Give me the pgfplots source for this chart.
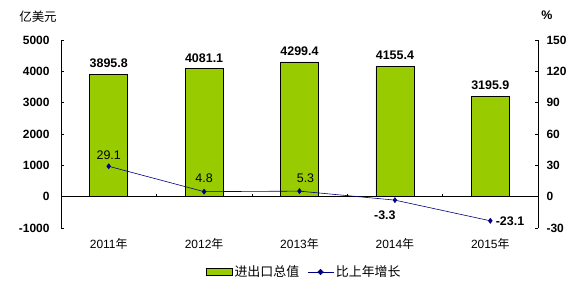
\documentclass[border=0pt]{standalone}
\usepackage{fontspec}
\setmainfont{Liberation Sans}
\newfontfamily\cjk{Noto Sans CJK SC}
\usepackage{pgfplots}
\pgfplotsset{compat=1.18}
\usepackage{pgfplotstable}
\definecolor{bargreen}{HTML}{99CC00}
\definecolor{linenavy}{HTML}{000080}
\pgfplotstableread{
x val lab
0 3895.8 3895.8
1 4081.1 4081.1
2 4299.4 4299.4
3 4155.4 4155.4
4 3195.9 3195.9
}\bars
\pgfplotstableread{
x g
0 29.1
1 4.8
2 5.3
3 -3.3
4 -23.1
}\growth
\newcommand{\fs}[1]{\fontsize{#1}{#1}\selectfont}
\pgfplotsset{
  barlegend/.style={legend image code/.code={\draw[fill=bargreen, draw=black, line width=0.6pt] (0bp,-3.5bp) rectangle (26bp,3.5bp);}},
  linelegend/.style={legend image code/.code={\draw[linenavy, line width=0.6pt] (0bp,0bp) -- (26bp,0bp); \fill[linenavy] (13bp,2.8bp) -- (15.8bp,0bp) -- (13bp,-2.8bp) -- (10.2bp,0bp) -- cycle;}},
}
\begin{document}
\begin{tikzpicture}[x=1bp,y=1bp]
\path[use as bounding box] (0,0) rectangle (583,286);
\begin{axis}[
  at={(61bp,58bp)}, anchor=south west,
  scale only axis, width=477bp, height=188bp,
  xmin=-0.5, xmax=4.5, ymin=-1000, ymax=5000,
  axis y line*=left, axis x line*=bottom,
  x axis line style={draw=none},
  y axis line style={-, line width=0.6pt},
  xtick={0,...,4},
  xticklabels={2011{\cjk 年},2012{\cjk 年},2013{\cjk 年},2014{\cjk 年},2015{\cjk 年}},
  x tick style={draw=none},
  x tick label style={font=\fs{12}, yshift=-7bp},
  ytick={-1000,0,...,5000},
  y tick style={black, line width=0.6pt},
  tick align=inside, major tick length=3bp,
  y tick label style={font=\bfseries\fs{12}, xshift=-8bp},
  /pgf/number format/assume math mode=true,
  /pgf/number format/1000 sep={},
  legend style={at={(0.51,-0.234)}, anchor=center, draw=none, fill=none,
    font=\cjk\fs{13}, legend columns=2,
    /tikz/every even column/.append style={column sep=6bp}},
  clip=false,
]
\addplot[ybar, bar width=38bp, fill=bargreen, draw=black, line width=0.6pt,
  nodes near coords, point meta=explicit symbolic,
  nodes near coords style={font=\bfseries\fs{12.5}, anchor=south, yshift=3bp},
  barlegend]
  table[x=x, y=val, meta=lab]{\bars};
\addlegendentry{进出口总值}
\addlegendimage{linelegend}
\addlegendentry{比上年增长}
\node[font=\cjk\fs{12.5}] at ([xshift=-23bp, yshift=23bp]rel axis cs:0,1) {亿美元};
\end{axis}
\begin{axis}[
  at={(61bp,58bp)}, anchor=south west,
  scale only axis, width=477bp, height=188bp,
  xmin=-0.5, xmax=4.5, ymin=-30, ymax=150,
  axis y line*=right, axis x line*=middle,
  x axis line style={-, line width=0.8pt},
  y axis line style={-, line width=0.6pt},
  xtick={0.5,1.5,2.5,3.5}, xticklabels={},
  x tick style={black, line width=0.6pt},
  ytick={-30,0,...,150},
  y tick style={black, line width=0.6pt},
  tick align=inside, major tick length=3bp,
  y tick label style={font=\bfseries\fs{12}, xshift=5bp},
  /pgf/number format/assume math mode=true,
  clip=false,
]
\addplot[linenavy, line width=0.6pt, mark=diamond*, mark size=2.5pt] table[x=x, y=g]{\growth};
\node[font=\fs{12.5}, anchor=south] at ([yshift=3bp]axis cs:0,29.1) {29.1};
\node[font=\fs{12.5}, anchor=south] at ([yshift=6bp]axis cs:1,4.8) {4.8};
\node[font=\fs{12.5}, anchor=south] at ([xshift=6bp,yshift=5bp]axis cs:2,5.3) {5.3};
\node[font=\bfseries\fs{12.5}, anchor=north] at ([xshift=-10bp,yshift=-7bp]axis cs:3,-3.3) {-3.3};
\node[font=\bfseries\fs{12.5}, anchor=west] at ([xshift=2bp]axis cs:4,-23.1) {-23.1};
\node[font=\bfseries\fs{12.5}] at ([xshift=9bp, yshift=25bp]rel axis cs:1,1) {\%};
\end{axis}
\end{tikzpicture}
\end{document}
